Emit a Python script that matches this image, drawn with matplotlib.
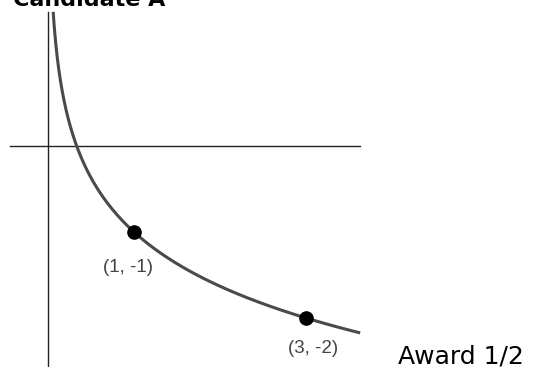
#!/usr/bin/env python3

import numpy as np
import matplotlib
matplotlib.use('Agg')
import matplotlib.pyplot as plt

# labelled points on the curve
point_x = [1, 3]
point_y = [-1, -2]
point_labels = ['(1, -1)', '(3, -2)']

# visible window of the sketch (graph units)
x_axis_span = [-0.44, 3.63]
y_axis_span = [1.56, -2.6]
curve_x_end = 3.63
curve_y_top = 1.56

title_text = 'Candidate A'
award_text = 'Award 1/2'


def f(x: np.ndarray) -> np.ndarray:
    '''
    the sketched curve, y = -log_3(x) - 1, which goes through both labelled points
    '''
    return -np.log(x) / np.log(3) - 1


def plot() -> None:
    fig = plt.figure(figsize=(5.34, 3.67), dpi=100)
    ax = fig.add_axes([0, 0, 1, 1])
    ax.set_xlim(-48 / 86, (534 - 48) / 86)
    ax.set_ylim(-(367 - 146) / 86, 146 / 86)
    ax.axis('off')

    # axes lines
    ax.plot(x_axis_span, [0, 0], color='#222222', lw=1.0)
    ax.plot([0, 0], y_axis_span, color='#222222', lw=1.0)

    # curve
    x_start = 3 ** (-(curve_y_top + 1))
    x = np.linspace(x_start, curve_x_end, 600)
    ax.plot(x, f(x), color='#4a4a4a', lw=2.2, solid_capstyle='butt')

    ax.plot(point_x, point_y, 'o', color='black', ms=9.5, zorder=3)
    offsets = [(-0.07, -0.41), (0.08, -0.35)]
    for px, py, lab, (dx, dy) in zip(point_x, point_y, point_labels, offsets):
        ax.text(px + dx, py + dy, lab, ha='center', va='center',
                fontsize=13.5, color='#444444', family='Liberation Sans')

    fig.text(13 / 534, 1 - 6 / 367, title_text, ha='left', va='baseline',
             fontsize=16, fontweight='bold', color='black')
    fig.text(398 / 534, 1 - 363 / 367, award_text, ha='left', va='baseline',
             fontsize=18, color='black')

    fig.savefig('out.png', dpi=100)


if __name__ == '__main__':
    plot()
